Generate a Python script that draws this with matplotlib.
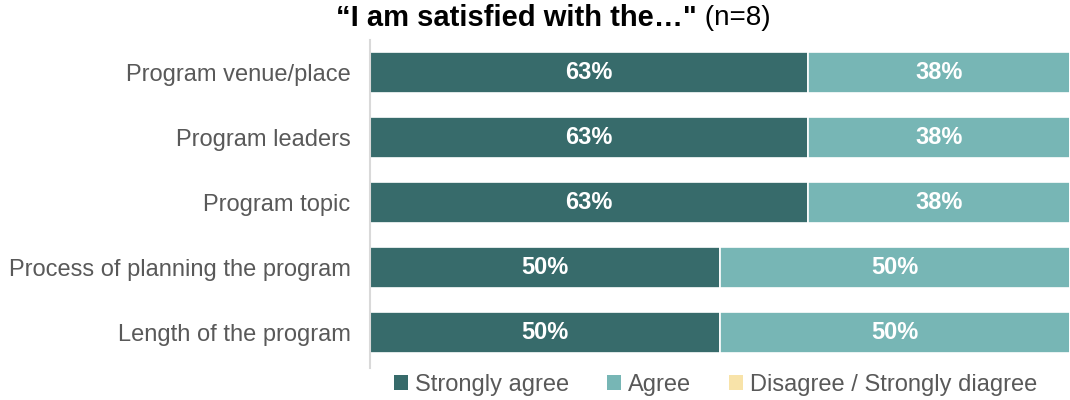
import matplotlib

matplotlib.use("Agg")
import matplotlib.pyplot as plt
from matplotlib.patches import Patch
import numpy as np

plt.rcParams["font.family"] = ["Liberation Sans", "DejaVu Sans"]

items = [
    "Program venue/place",
    "Program leaders",
    "Program topic",
    "Process of planning the program",
    "Length of the program",
]
n_resp = 8
strongly_agree = [5, 5, 5, 4, 4]
agree = [3, 3, 3, 4, 4]
disagree = [0, 0, 0, 0, 0]

series = ["Strongly agree", "Agree", "Disagree / Strongly diagree"]
colors = ["#376b6b", "#77b6b5", "#f8e3a9"]
text_gray = "#595959"

fig = plt.figure(figsize=(10.7, 4.0), dpi=100)
ax = fig.add_axes([0.3458, 0.08, 0.6542, 0.82])

y = np.arange(len(items))
left = np.zeros(len(items))
for name, counts, color in zip(series, [strongly_agree, agree, disagree], colors):
    pct = np.array(counts) / n_resp * 100
    ax.barh(y, pct, left=left, height=0.63, color=color,
            edgecolor="white", linewidth=1.2)
    for yi, l, p in zip(y, left, pct):
        if p > 0:
            ax.text(l + p / 2, yi, f"{int(p + 0.5)}%", ha="center", va="center",
                    color="white", fontsize=17, fontweight="bold")
    left += pct

ax.set_xlim(0, 100)
ax.set_ylim(len(items) - 0.45, -0.5)
ax.set_yticks(y)
ax.set_yticklabels(items, fontsize=17, color=text_gray)
ax.tick_params(axis="y", length=0, pad=14)
ax.set_xticks([])
for s in ["top", "right", "bottom"]:
    ax.spines[s].set_visible(False)
ax.spines["left"].set_color("#d9d9d9")
ax.spines["left"].set_linewidth(1.5)

fig.text(0.651, 0.954, "\u201cI am satisfied with the\u2026\"", ha="right", va="center",
         fontsize=21, fontweight="bold", color="black")
fig.text(0.651, 0.954, " (n=8)", ha="left", va="center", fontsize=20, color="black")

handles = [Patch(facecolor=c, edgecolor="none") for c in colors]
fig.legend(handles, series, loc="center", bbox_to_anchor=(0.669, 0.037), ncol=3,
           frameon=False, fontsize=17, handlelength=0.6, handleheight=0.6,
           handletextpad=0.3, columnspacing=1.6, labelcolor=text_gray)

fig.savefig("out.png")
plt.close(fig)
